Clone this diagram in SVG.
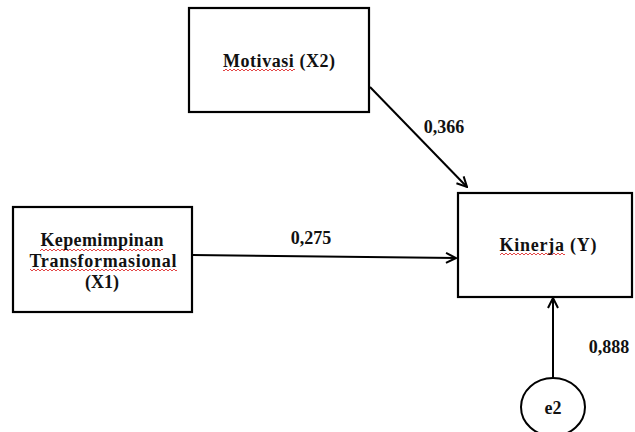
<svg xmlns="http://www.w3.org/2000/svg" width="635" height="432" viewBox="0 0 635 432">
<style>
.box{fill:#fff;stroke:#000;stroke-width:2.2}
.lbl{font-family:"Liberation Serif","Times New Roman",serif;font-weight:bold;font-size:18px;fill:#111;text-anchor:middle}
.con{fill:none;stroke:#000;stroke-width:2}
.sq{fill:url(#squig)}
</style>
<defs>
<marker id="arr" viewBox="0 0 12 12" refX="11" refY="6" markerWidth="12" markerHeight="12" markerUnits="userSpaceOnUse" orient="auto">
<path d="M1,1 L11,6 L1,11" fill="none" stroke="#000" stroke-width="2"/>
</marker>
<pattern id="squig" patternUnits="userSpaceOnUse" width="4" height="4">
<path d="M0,3 L2,1 L4,3" fill="none" stroke="#e03030" stroke-width="0.9"/>
</pattern>
</defs>
<rect width="635" height="432" fill="#fff"/>
<g id="connectors">
<line class="con" x1="370" y1="87" x2="467" y2="187" marker-end="url(#arr)"/>
<line class="con" x1="192" y1="255" x2="456" y2="258" marker-end="url(#arr)"/>
<line class="con" x1="553" y1="378" x2="553" y2="298" marker-end="url(#arr)"/>
<text class="lbl" x="444" y="133">0,366</text>
<text class="lbl" x="311" y="244">0,275</text>
<text class="lbl" x="609" y="353">0,888</text>
</g>
<g id="motivasi">
<rect class="box" x="189" y="8" width="180" height="104"/>
<rect class="sq" x="223" y="68" width="72" height="4"/>
<text class="lbl" x="279" y="67" textLength="112">Motivasi (X2)</text>
</g>
<g id="kepemimpinan">
<rect class="box" x="13" y="207" width="179" height="105"/>
<rect class="sq" x="40" y="248" width="123" height="4"/>
<rect class="sq" x="30" y="268" width="147" height="4"/>
<text class="lbl" x="102" y="246" textLength="123">Kepemimpinan</text>
<text class="lbl" x="103" y="267" textLength="147">Transformasional</text>
<text class="lbl" x="102" y="288">(X1)</text>
</g>
<g id="kinerja">
<rect class="box" x="458" y="193" width="174" height="104"/>
<rect class="sq" x="500" y="252" width="65" height="4"/>
<text class="lbl" x="548" y="251" textLength="97">Kinerja (Y)</text>
</g>
<g id="e2">
<ellipse cx="553" cy="407" rx="32" ry="29" fill="#fff" stroke="#000" stroke-width="2"/>
<text class="lbl" x="553" y="414">e2</text>
</g>
</svg>
